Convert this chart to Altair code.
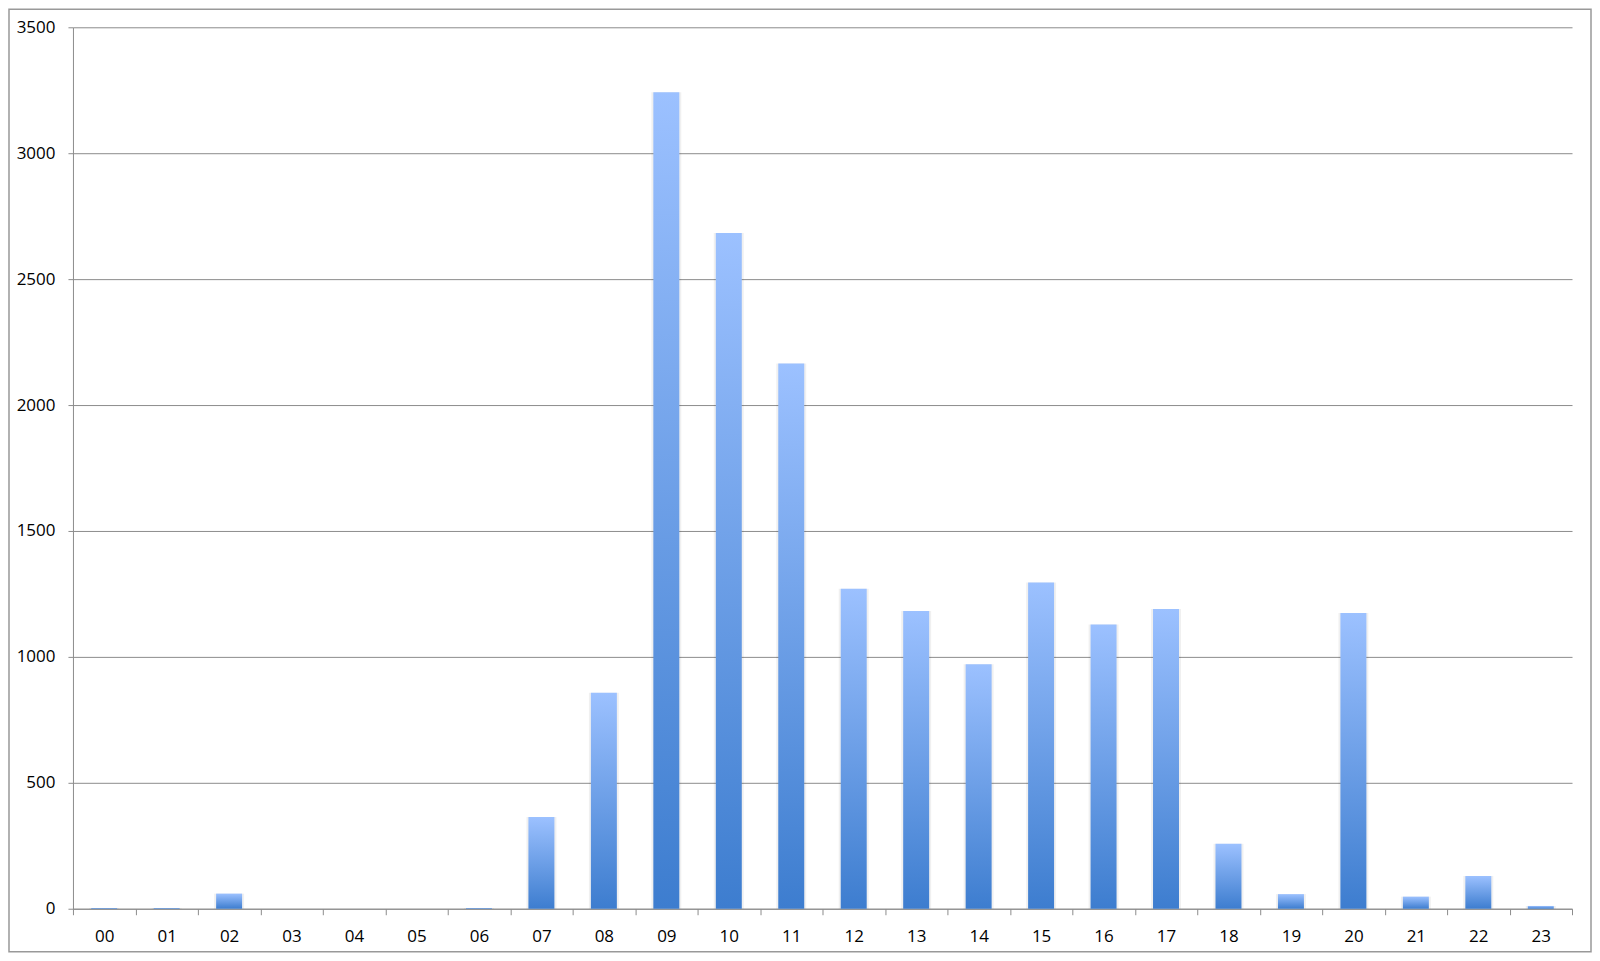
import altair as alt
import pandas as pd

hours = ["00", "01", "02", "03", "04", "05", "06", "07", "08", "09", "10", "11",
         "12", "13", "14", "15", "16", "17", "18", "19", "20", "21", "22", "23"]
counts = [3, 3, 60, 0, 0, 0, 3, 364, 858, 3242, 2683, 2165,
          1271, 1182, 971, 1295, 1129, 1190, 258, 58, 1174, 48, 130, 11]
y_ticks = [0, 500, 1000, 1500, 2000, 2500, 3000, 3500]

df = pd.DataFrame({"hour": hours, "count": counts})

FONT = "Open Sans"
GRAY = "#8c8c8c"

grad = alt.Gradient(
    gradient="linear",
    stops=[alt.GradientStop(color="#9cc1ff", offset=0),
           alt.GradientStop(color="#3d7dcf", offset=1)],
    x1=0, x2=0, y1=0, y2=1,
)

x_enc = alt.X("hour:N", sort=hours, title=None,
              scale=alt.Scale(paddingInner=0, paddingOuter=0),
              axis=alt.Axis(tickBand="extent", labelAngle=0, labelFont=FONT,
                            labelFontSize=17, labelColor="#000", labelPadding=14,
                            tickSize=6, tickColor=GRAY, domainColor=GRAY,
                            grid=False))
y_enc = alt.Y("count:Q", title=None,
              scale=alt.Scale(domain=[0, 3500], nice=False),
              axis=alt.Axis(values=y_ticks, format="d", labelFont=FONT, labelFontSize=17,
                            labelColor="#000", labelPadding=13, tickSize=5,
                            tickColor=GRAY, domainColor=GRAY, gridColor=GRAY,
                            gridWidth=1))

shadow = alt.Chart(df).mark_bar(size=30, color="#000000", opacity=0.06).encode(
    x=x_enc, y=y_enc)
bars = alt.Chart(df).mark_bar(size=26, color=grad).encode(x=x_enc, y=y_enc)

border_df = pd.DataFrame({"k": [0]})
border = alt.Chart(border_df).mark_rect(fill=None, stroke="#999999", strokeWidth=1.5).encode(
    x=alt.value(-64), x2=alt.value(1519), y=alt.value(-18), y2=alt.value(925))

chart = alt.layer(shadow, bars, border).properties(
    width=1500, height=882,
    autosize=alt.AutoSizeParams(type="none"),
    padding={"left": 65, "top": 19, "right": 20, "bottom": 44},
).configure_view(stroke=None).configure_axis(domainWidth=1, tickWidth=1)

chart.save("out.html", embed_options={"renderer": "svg", "actions": False})
